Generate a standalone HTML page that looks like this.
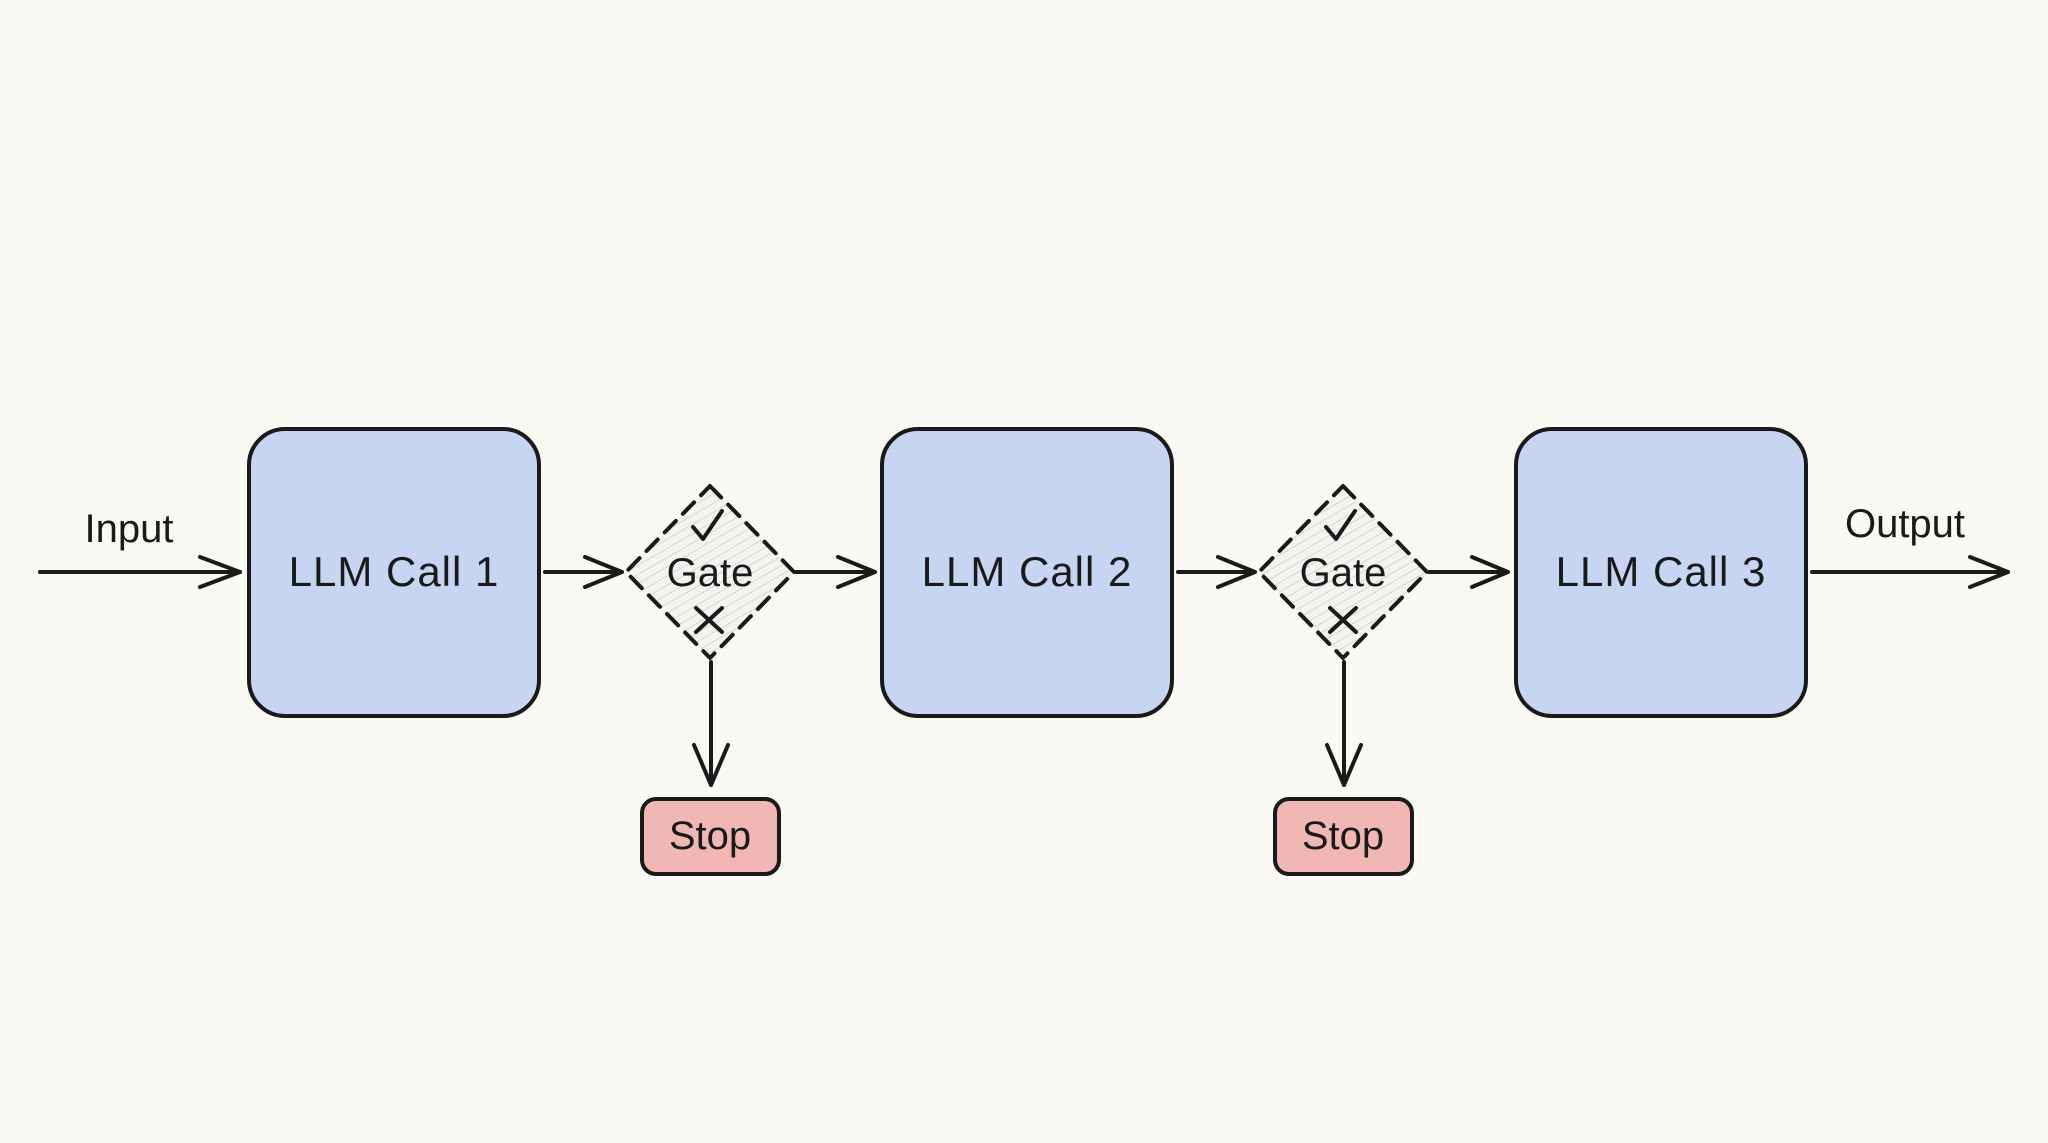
<!DOCTYPE html>
<html><head><style>
html,body{margin:0;padding:0;background:#fbf9f3;}
svg{display:block}
text{font-family:"Liberation Sans",sans-serif;fill:#1a1a1a;}
</style></head><body>
<svg width="2048" height="1143" viewBox="0 0 2048 1143" xmlns="http://www.w3.org/2000/svg">
<defs>
<pattern id="h" width="8" height="8" patternUnits="userSpaceOnUse" patternTransform="rotate(60)">
<rect width="8" height="8" fill="#f4f3ef"/><line x1="0" y1="0" x2="0" y2="8" stroke="#d6d6d6" stroke-width="2"/>
</pattern>
</defs>
<rect width="2048" height="1143" fill="#fbf9f3"/>
<g stroke="#1a1a1a" stroke-width="4" fill="none" stroke-linecap="round" stroke-linejoin="round">
<rect x="249" y="429" width="290" height="287" rx="36" fill="#c7d4f2"/>
<rect x="882" y="429" width="290" height="287" rx="36" fill="#c7d4f2"/>
<rect x="1516" y="429" width="290" height="287" rx="36" fill="#c7d4f2"/>
<path d="M710 486 L794 572 L710 658 L626 572 Z" fill="url(#h)" stroke-dasharray="16 10"/>
<path d="M1343 486 L1427 572 L1343 658 L1259 572 Z" fill="url(#h)" stroke-dasharray="16 10"/>
<rect x="642" y="799" width="137" height="75" rx="14" fill="#f1b7b5"/>
<rect x="1275" y="799" width="137" height="75" rx="14" fill="#f1b7b5"/>
<path d="M40 572 H240 M200 557 L240 572 L200 587"/>
<path d="M545 572 H622 M585 557 L622 572 L585 587"/>
<path d="M796 572 H875 M838 557 L875 572 L838 587"/>
<path d="M1178 572 H1255 M1218 557 L1255 572 L1218 587"/>
<path d="M1429 572 H1508 M1472 557 L1508 572 L1472 587"/>
<path d="M1812 572 H2008 M1970 557 L2008 572 L1970 587"/>
<path d="M711 662 V785 M694 745 L711 785 L728 745"/>
<path d="M1344 662 V785 M1327 745 L1344 785 L1361 745"/>
<path d="M693 527 L703 539 L722 511"/>
<path d="M696 608 L722 632 M722 608 L696 632"/>
<path d="M1326 527 L1336 539 L1355 511"/>
<path d="M1330 608 L1356 632 M1356 608 L1330 632"/>
</g>
<g font-size="42" text-anchor="middle" letter-spacing="1">
<text x="394" y="586">LLM Call 1</text>
<text x="1027" y="586">LLM Call 2</text>
<text x="1661" y="586">LLM Call 3</text>
</g>
<g font-size="40" text-anchor="middle">
<text x="710" y="586">Gate</text>
<text x="1343" y="586">Gate</text>
<text x="710" y="849">Stop</text>
<text x="1343" y="849">Stop</text>
<text x="129" y="542">Input</text>
<text x="1905" y="537">Output</text>
</g>
</svg>
</body></html>
